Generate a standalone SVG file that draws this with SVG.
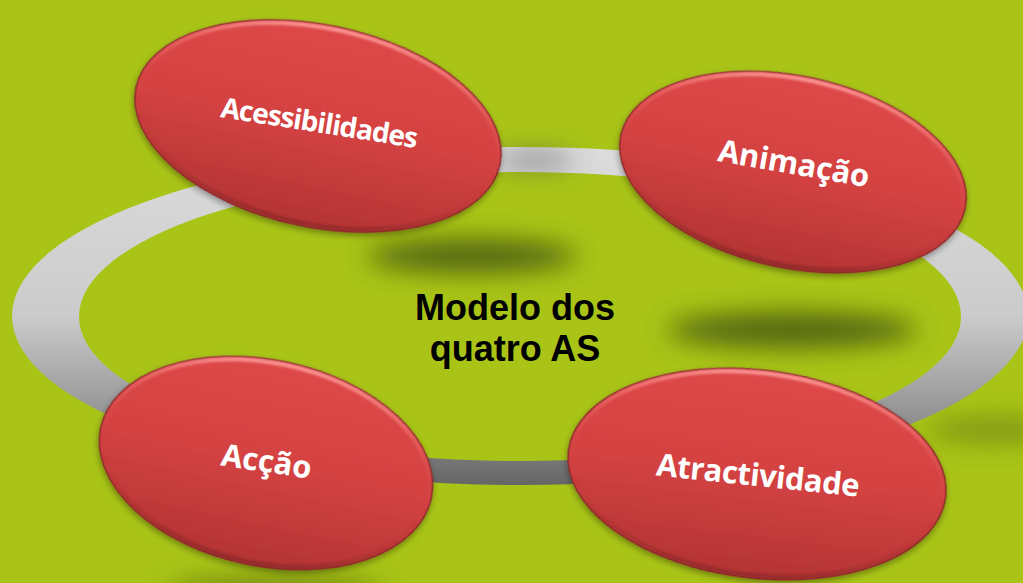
<svg xmlns="http://www.w3.org/2000/svg" width="1023" height="583" viewBox="0 0 1023 583">
  <style>
    .node-body { fill: url(#redFill); stroke: #8a2a2a; stroke-width: 1.5; filter: url(#drop); }
    .node-rim { fill: none; stroke: url(#rim); stroke-width: 4; filter: url(#soft); }
    .lbl { font-family: "Open Sans", "DejaVu Sans", sans-serif; font-weight: 700; font-size: 31px; fill: #ffffff; text-anchor: middle; }
    .center { font-family: "Liberation Sans", Arial, sans-serif; font-weight: 700; font-size: 36px; fill: #000000; text-anchor: middle; }
    .shadow { fill: #3a4a0a; filter: url(#bigblur); }
  </style>
  <defs>
    <linearGradient id="redFill" x1="0" y1="0" x2="0" y2="1">
      <stop offset="0" stop-color="#de4848"/>
      <stop offset="0.5" stop-color="#d44242"/>
      <stop offset="1" stop-color="#b33434"/>
    </linearGradient>
    <linearGradient id="rim" x1="0" y1="0" x2="0" y2="1">
      <stop offset="0" stop-color="#ff9d9d" stop-opacity="0.9"/>
      <stop offset="0.3" stop-color="#f07070" stop-opacity="0.35"/>
      <stop offset="0.6" stop-color="#c03030" stop-opacity="0"/>
      <stop offset="1" stop-color="#7a1f1f" stop-opacity="0.55"/>
    </linearGradient>
    <linearGradient id="ringFill" gradientUnits="userSpaceOnUse" x1="0" y1="147" x2="0" y2="485">
      <stop offset="0" stop-color="#dcdcdc"/>
      <stop offset="0.5" stop-color="#cbcbcb"/>
      <stop offset="0.78" stop-color="#969696"/>
      <stop offset="1" stop-color="#666666"/>
    </linearGradient>
    <filter id="drop" x="-10%" y="-10%" width="120%" height="130%">
      <feDropShadow dx="0" dy="3" stdDeviation="3" flood-color="#000" flood-opacity="0.35"/>
    </filter>
    <filter id="soft" x="-10%" y="-10%" width="120%" height="120%">
      <feGaussianBlur stdDeviation="1.2"/>
    </filter>
    <filter id="bigblur" x="-60%" y="-150%" width="220%" height="400%">
      <feGaussianBlur stdDeviation="13"/>
    </filter>
  </defs>

  <rect id="background" x="0" y="0" width="1023" height="583" fill="#a9c417"/>

  <g id="shadows">
    <ellipse class="shadow" cx="472" cy="256" rx="105" ry="16" opacity="0.8"/>
    <ellipse class="shadow" cx="792" cy="330" rx="125" ry="17" opacity="0.8"/>
    <ellipse class="shadow" cx="995" cy="430" rx="70" ry="12" opacity="0.4"/>
    <ellipse class="shadow" cx="275" cy="592" rx="110" ry="14" opacity="0.5"/>
  </g>

  <g id="connectors">
    <path d="M 12,316 a 508,169 0 1,0 1016,0 a 508,169 0 1,0 -1016,0 Z M 79,316.5 a 441,144.5 0 1,0 882,0 a 441,144.5 0 1,0 -882,0 Z" fill="url(#ringFill)" fill-rule="evenodd"/>
    <ellipse cx="535" cy="160" rx="40" ry="8" fill="#4a4a4a" opacity="0.6" filter="url(#bigblur)"/>
  </g>

  <g id="node-acessibilidades">
    <ellipse class="node-body" cx="318" cy="126" rx="186" ry="101" transform="rotate(12 318 126)"/>
    <ellipse class="node-rim" cx="318" cy="126" rx="183" ry="98" transform="rotate(12 318 126)"/>
    <text class="lbl" style="font-size:28px" transform="translate(318,132.5) rotate(9)" textLength="199" lengthAdjust="spacing">Acessibilidades</text>
  </g>

  <g id="node-animacao">
    <ellipse class="node-body" cx="793" cy="172" rx="176" ry="96" transform="rotate(12 793 172)"/>
    <ellipse class="node-rim" cx="793" cy="172" rx="173" ry="93" transform="rotate(12 793 172)"/>
    <text class="lbl" transform="translate(792,174) rotate(10)" textLength="153" lengthAdjust="spacing">Animação</text>
  </g>

  <g id="node-atractividade">
    <ellipse class="node-body" cx="757" cy="474" rx="190" ry="104" transform="rotate(7 757 474)"/>
    <ellipse class="node-rim" cx="757" cy="474" rx="187" ry="101" transform="rotate(7 757 474)"/>
    <text class="lbl" transform="translate(757,486) rotate(6)" textLength="204" lengthAdjust="spacing">Atractividade</text>
  </g>

  <g id="node-accao">
    <ellipse class="node-body" cx="266" cy="463" rx="169" ry="103" transform="rotate(12 266 463)"/>
    <ellipse class="node-rim" cx="266" cy="463" rx="166" ry="100" transform="rotate(12 266 463)"/>
    <text class="lbl" transform="translate(265,472) rotate(8.5)" textLength="91" lengthAdjust="spacing">Acção</text>
  </g>

  <g id="center-label">
    <text class="center" x="515" y="320">Modelo dos</text>
    <text class="center" x="515" y="361">quatro AS</text>
  </g>
</svg>
